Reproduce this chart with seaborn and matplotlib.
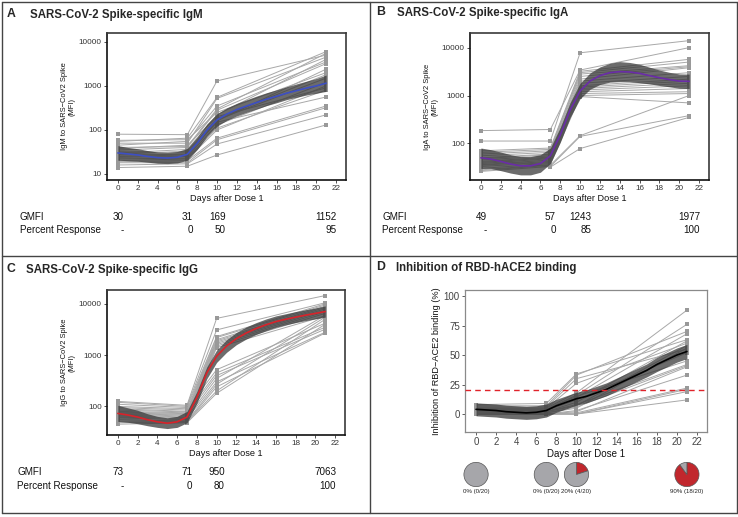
import numpy as np
import pandas as pd
import matplotlib
matplotlib.use("Agg")
import matplotlib.pyplot as plt
import matplotlib.transforms as mtransforms
from matplotlib.lines import Line2D
import seaborn as sns

# ---------------- data ----------------
days = [0, 7, 10, 21]
fit_days = list(range(22))

# Panel A: IgM (MFI)
igm_d0 = [80, 58, 55, 50, 45, 40, 38, 35, 32, 30, 28, 27, 25, 24, 22, 20, 19, 18, 16, 14]
igm_d7 = [78, 60, 65, 50, 55, 42, 45, 40, 30, 36, 33, 28, 27, 25, 23, 22, 20, 18, 17, 15]
igm_d10 = [1300, 250, 550, 520, 350, 300, 200, 280, 170, 220, 180, 150, 160, 130, 110, 100, 65, 60, 48, 27]
igm_d21 = [5000, 2000, 6000, 4500, 3500, 5500, 900, 3200, 1500, 4000, 1800, 560, 2400, 1200, 800, 1000, 350, 320, 220, 130]
igm_fit = [30, 28.5, 27, 25, 23.5, 23, 24, 28, 50, 100, 169, 230, 290, 350, 420, 500, 580, 680, 780, 890, 1000, 1150]
igm_lo = [20.5, 20, 19.5, 18.5, 17.5, 17.2, 17.8, 20.5, 36, 72, 122, 166, 209, 252, 300, 357, 414, 486, 550, 620, 680, 750]
igm_hi = [44, 40, 37.5, 34, 31.5, 30.8, 32.4, 38, 69, 139, 234, 318, 402, 486, 588, 700, 812, 952, 1105, 1275, 1470, 1760]
igm_gmfi = ["30", "31", "169", "1152"]
igm_pct = ["-", "0", "50", "95"]

# Panel B: IgA (MFI)
iga_d0 = [185, 112, 70, 65, 60, 55, 50, 48, 45, 42, 40, 38, 36, 35, 33, 30, 28, 27, 26, 50]
iga_d7 = [195, 112, 80, 75, 70, 65, 60, 58, 55, 52, 50, 48, 45, 42, 40, 38, 36, 35, 33, 32]
iga_d10 = [3400, 7800, 3200, 3000, 2800, 2500, 2200, 2000, 1800, 1600, 1500, 1400, 1300, 1200, 1100, 1000, 950, 145, 140, 78]
iga_d21 = [10000, 14000, 5700, 5000, 4200, 4000, 3800, 3000, 2500, 2200, 2000, 1800, 1600, 1400, 1200, 1100, 700, 1000, 380, 350]
iga_fit = [50, 47, 42, 37, 34, 34, 38, 55, 150, 500, 1243, 2000, 2600, 3000, 3150, 3100, 2900, 2600, 2350, 2150, 2000, 1977]
iga_lo = [30, 30, 27, 24, 22, 22, 25, 38, 105, 350, 860, 1350, 1700, 1900, 1950, 1950, 1850, 1750, 1620, 1520, 1420, 1400]
iga_hi = [80, 74, 66, 58, 53, 53, 58, 80, 215, 715, 1800, 2950, 3950, 4700, 5100, 4900, 4500, 3900, 3400, 3050, 2820, 2800]
iga_gmfi = ["49", "57", "1243", "1977"]
iga_pct = ["-", "0", "85", "100"]

# Panel C: IgG (MFI)
igg_d0 = [125, 120, 110, 100, 95, 90, 85, 80, 78, 75, 72, 70, 68, 65, 62, 60, 55, 50, 48, 45]
igg_d7 = [105, 100, 95, 90, 85, 80, 78, 75, 72, 70, 68, 65, 62, 60, 58, 55, 52, 50, 50, 48]
igg_d10 = [5200, 3100, 2300, 520, 2200, 2000, 450, 1900, 1800, 400, 1700, 1600, 350, 1500, 300, 1400, 270, 240, 200, 180]
igg_d21 = [14500, 10500, 10000, 4200, 9500, 9000, 3500, 8500, 8000, 3200, 7500, 7000, 6000, 6500, 2800, 5800, 5500, 2700, 5000, 4000]
igg_fit = [73, 68, 62, 55, 50, 47, 50, 62, 150, 450, 950, 1500, 2100, 2700, 3300, 3900, 4500, 5000, 5500, 6000, 6500, 7063]
igg_lo = [51, 49, 46, 42, 39, 37, 39, 48, 115, 345, 720, 1130, 1600, 2060, 2530, 3000, 3480, 3900, 4300, 4700, 5100, 5500]
igg_hi = [105, 94, 84, 72, 64, 60, 64, 80, 195, 585, 1250, 1990, 2760, 3540, 4300, 5070, 5820, 6400, 7050, 7650, 8300, 9100]
igg_gmfi = ["73", "71", "950", "7063"]
igg_pct = ["-", "0", "80", "100"]

# Panel D: inhibition of RBD-hACE2 binding (%)
inh_d0 = [8, 7, 6, 5, 5, 4, 4, 3, 3, 2, 2, 1, 1, 0, 0, 0, 0, 0, 0, 0]
inh_d7 = [9, 7, 6, 5, 5, 4, 4, 3, 3, 2, 2, 2, 1, 1, 0, 0, 0, 0, 0, 0]
inh_d10 = [34, 33, 30, 26, 18, 16, 15, 14, 12, 10, 8, 7, 6, 5, 3, 2, 1, 0, 0, 0]
inh_d21 = [63, 70, 55, 60, 88, 76, 45, 68, 52, 62, 42, 58, 41, 56, 33, 40, 22, 21, 19, 12]
inh_fit = [4, 3.5, 3, 2, 1.5, 1, 1.5, 3, 7, 10, 13, 15, 18, 21, 25, 29, 33, 37, 42, 46, 50, 53]
inh_lo = [-1.5, -2, -2.5, -3.5, -4, -4.5, -4, -2.5, 1.5, 4.5, 7.5, 9.5, 12.5, 15.5, 19.5, 23.5, 27.5, 31.5, 36, 40, 44, 47]
inh_hi = [9.5, 9, 8.5, 7.5, 7, 6.5, 7, 8.5, 12.5, 15.5, 18.5, 20.5, 23.5, 26.5, 30.5, 34.5, 38.5, 42.5, 48, 52, 56, 59]
inh_cutoff = 20
inh_responders = [0, 0, 4, 18]
inh_n = 20

# ---------------- style ----------------
sns.set_style("white")
plt.rcParams["font.family"] = ["Liberation Sans", "DejaVu Sans"]
plt.rcParams["axes.unicode_minus"] = True

W, H = 738, 517
fig = plt.figure(figsize=(W / 100, H / 100), dpi=100)


def fx(px):
    return px / W


def fy(py):
    return 1 - py / H


def ax_rect(l, t, r, b):
    return [fx(l), fy(b), fx(r) - fx(l), (b - t) / H]


LINE_C = "#a8a8a8"
BAND_C = "#333333"
TXT = "#111111"


def long_df(d0, d7, d10, d21):
    rows = []
    for i, vals in enumerate(zip(d0, d7, d10, d21)):
        for d, v in zip(days, vals):
            rows.append({"subject": i, "day": d, "value": v})
    return pd.DataFrame(rows)


def draw_panel(ax, d0, d7, d10, d21, fit, lo, hi, fit_color, log=True,
               frame_color="#3a3a3a"):
    df = long_df(d0, d7, d10, d21)
    sns.lineplot(data=df, x="day", y="value", units="subject", estimator=None,
                 color=LINE_C, lw=0.7, marker="s", markersize=2.3,
                 markeredgewidth=0, markerfacecolor="#999999", ax=ax,
                 legend=False, zorder=2)
    ax.fill_between(fit_days, lo, hi, color=BAND_C, alpha=0.72, lw=0, zorder=3)
    fdf = pd.DataFrame({"day": fit_days, "value": fit})
    sns.lineplot(data=fdf, x="day", y="value", color=fit_color, lw=1.2, ax=ax,
                 zorder=4, legend=False)
    if log:
        ax.set_yscale("log")
    ax.set_xlim(-1.1, 23.0)
    ax.set_xticks(range(0, 23, 2))
    ax.set_xlabel("Days after Dose 1", fontsize=6.6, labelpad=1, color=TXT)
    ax.tick_params(axis="both", which="major", labelsize=5.9, length=2.2,
                   width=0.6, pad=1.5, colors="#333333", direction="out",
                   left=True, bottom=True)
    ax.tick_params(axis="both", which="minor", left=False, bottom=False)
    for s in ax.spines.values():
        s.set_color(frame_color)
        s.set_linewidth(1.2)
    ax.spines["left"].set_color("#111111")
    ax.spines["bottom"].set_color("#111111")
    ax.grid(False)


def set_log_ticks(ax, ticks, ylim):
    ax.set_ylim(*ylim)
    ax.set_yticks(ticks)
    ax.set_yticklabels([str(t) for t in ticks])
    ax.yaxis.set_minor_locator(matplotlib.ticker.NullLocator())


def table(ax, ypx_g, ypx_p, gmfi, pct, xlab_px):
    tr = mtransforms.blended_transform_factory(ax.transData, fig.transFigure)
    fs = 7.1
    fig.text(fx(xlab_px), fy(ypx_g), "GMFI", fontsize=fs, va="center",
             ha="left", color=TXT)
    fig.text(fx(xlab_px), fy(ypx_p), "Percent Response", fontsize=fs,
             va="center", ha="left", color=TXT)
    gts = []
    for d, g in zip(days, gmfi):
        gts.append(ax.text(d, fy(ypx_g), g, transform=tr, fontsize=fs,
                           ha="center", va="center", color=TXT))
    fig.canvas.draw()
    r = fig.canvas.get_renderer()
    for gt, p in zip(gts, pct):
        bb = gt.get_window_extent(renderer=r)
        fig.text(bb.x1 / W, fy(ypx_p), p, fontsize=fs, ha="right",
                 va="center", color=TXT)


def mfi_ylabel(ax, text):
    ax.set_ylabel(text, fontsize=5.4, linespacing=1.05, labelpad=2.5,
                  color=TXT)


# ---------------- Panel A ----------------
axA = fig.add_axes(ax_rect(107, 33, 346, 180))
draw_panel(axA, igm_d0, igm_d7, igm_d10, igm_d21, igm_fit, igm_lo, igm_hi,
           "#3d4fc4")
set_log_ticks(axA, [10, 100, 1000, 10000], (7.3, 15850))
mfi_ylabel(axA, "IgM to SARS\u2212CoV2 Spike\n(MFI)")

# ---------------- Panel B ----------------
axB = fig.add_axes(ax_rect(470, 33, 709, 180))
draw_panel(axB, iga_d0, iga_d7, iga_d10, iga_d21, iga_fit, iga_lo, iga_hi,
           "#6a2ca8")
set_log_ticks(axB, [100, 1000, 10000], (17.2, 20200))
mfi_ylabel(axB, "IgA to SARS\u2212CoV2 Spike\n(MFI)")

# ---------------- Panel C ----------------
axC = fig.add_axes(ax_rect(107, 290, 345, 435))
draw_panel(axC, igg_d0, igg_d7, igg_d10, igg_d21, igg_fit, igg_lo, igg_hi,
           "#d9232a")
set_log_ticks(axC, [100, 1000, 10000], (27.7, 18600))
mfi_ylabel(axC, "IgG to SARS\u2212CoV2 Spike\n(MFI)")

# ---------------- Panel D ----------------
axD = fig.add_axes(ax_rect(465, 290, 707, 432))
draw_panel(axD, inh_d0, inh_d7, inh_d10, inh_d21, inh_fit, inh_lo, inh_hi,
           "#000000", log=False, frame_color="#8a8a8a")
for s in axD.spines.values():
    s.set_color("#8a8a8a")
    s.set_linewidth(0.9)
axD.set_ylim(-15.2, 105.1)
axD.set_yticks([0, 25, 50, 75, 100])
axD.tick_params(axis="both", colors="#444444", labelsize=7.0)
axD.axhline(inh_cutoff, color="#e0232a", lw=1.0, ls=(0, (4, 3)), zorder=5)
axD.set_ylabel("Inhibition of RBD\u2212ACE2 binding (%)", fontsize=6.6,
               labelpad=2, color=TXT)
axD.xaxis.label.set_fontsize(7.0)

# Tables
table(axA, 217, 230, igm_gmfi, igm_pct, 20)
table(axB, 217, 230, iga_gmfi, iga_pct, 382)
table(axC, 472, 486, igg_gmfi, igg_pct, 17)

# Pies under panel D
x0, x1 = axD.get_xlim()
posD = axD.get_position()
pie_px = 25
for d, k in zip(days, inh_responders):
    cx = posD.x0 + (d - x0) / (x1 - x0) * posD.width
    cy = fy(474.5)
    pa = fig.add_axes([cx - pie_px / 2 / W, cy - pie_px / 2 / H,
                       pie_px / W, pie_px / H])
    frac = [k, inh_n - k]
    pa.pie(frac, colors=["#c1272d", "#a6a6aa"], startangle=90,
           counterclock=False,
           wedgeprops=dict(edgecolor="#555555", linewidth=0.5))
    pa.set_xlim(-1.03, 1.03)
    pa.set_ylim(-1.03, 1.03)
    pa.set_aspect("equal")
    pct = round(100 * k / inh_n)
    fig.text(cx, fy(491.5), f"{pct}% ({k}/{inh_n})", fontsize=4.4,
             ha="center", va="center", color="#222222")

# Titles
titles = [("A", "SARS-CoV-2 Spike-specific IgM", 7, 30, 15),
          ("B", "SARS-CoV-2 Spike-specific IgA", 376, 397, 13),
          ("C", "SARS-CoV-2 Spike-specific IgG", 6, 26, 270),
          ("D", "Inhibition of RBD-hACE2 binding", 376, 396, 268)]
for letter, title, lx, tx, ty in titles:
    fig.text(fx(lx), fy(ty - 1), letter, fontsize=8.8, fontweight="bold",
             ha="left", va="center")
    fig.text(fx(tx), fy(ty), title, fontsize=8.3, fontweight="bold",
             ha="left", va="center")

# Panel frames
fc = "#444444"
for (xa, ya, xb, yb) in [(1.5, 1.5, 736.5, 1.5), (1.5, 513, 736.5, 513),
                         (1.5, 1.5, 1.5, 513), (736.5, 1.5, 736.5, 513),
                         (369.5, 1.5, 369.5, 513), (1.5, 255.5, 736.5, 255.5)]:
    fig.add_artist(Line2D([fx(xa), fx(xb)], [fy(ya), fy(yb)], color=fc,
                          lw=1.0, transform=fig.transFigure))

fig.savefig("out.png", dpi=100)
